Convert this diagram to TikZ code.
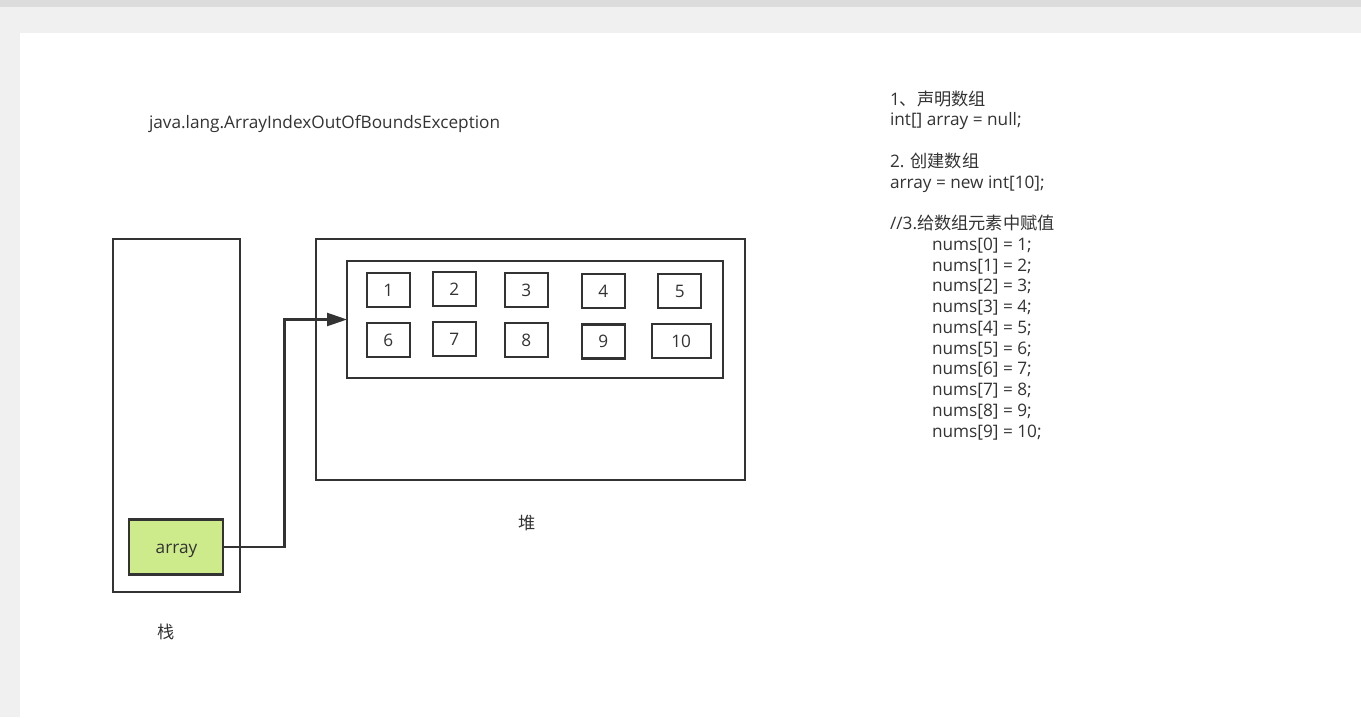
\documentclass[tikz,border=0pt]{standalone}
\usepackage{fontspec}
\setmainfont{Open Sans}
\newfontfamily\cjk{Noto Sans CJK SC}
\usetikzlibrary{arrows.meta}
\definecolor{ink}{HTML}{333333}
\definecolor{txt}{HTML}{333333}
\definecolor{grn}{HTML}{CDEB8B}
\definecolor{bgA}{HTML}{F0F0F0}
\definecolor{bgB}{HTML}{DCDCDC}
\begin{document}
\begin{tikzpicture}[x=0.02cm,y=-0.02cm,
  every node/.style={font=\fontsize{9.8pt}{11pt}\selectfont, text=txt, inner sep=0pt, outer sep=0pt},
  box/.style={draw=ink, line width=1.3pt, rectangle},
  cell/.style={box, minimum width=0.86cm, minimum height=0.68cm},
  codeline/.style={anchor=base west},
  conn/.style={draw=ink, line width=1.3pt, -{Triangle[length=0.4cm,width=0.26cm]}}]
\useasboundingbox (0,0) rectangle (1361,717);
\fill[bgA] (0,0) rectangle (1361,717);
\fill[bgB] (0,0) rectangle (1361,7);
\fill[white] (20,33) rectangle (1361,717);

% title
\node[anchor=base west] (title) at (149,128) {java.lang.ArrayIndexOutOfBoundsException};

% stack
\node[box, minimum width=2.54cm, minimum height=7.06cm] (stack) at (176.5,415.5) {};
\node[box, fill=grn, minimum width=1.88cm, minimum height=1.1cm] (arr) at (176.3,547) {};
\node[anchor=base] (arrlbl) at (176.5,553) {array};
\node (stacklbl) at (166,632) {\cjk 栈};

% heap
\node[box, minimum width=8.58cm, minimum height=4.82cm] (heap) at (530.5,359.5) {};
\node[box, minimum width=7.52cm, minimum height=2.34cm] (inner) at (535,319.5) {};
\node (heaplbl) at (527,523) {\cjk 堆};

% cells
\node[cell] (c1) at (388.3,290.3) {1};
\node[cell] (c2) at (454.3,289.3) {2};
\node[cell] (c3) at (526.3,290.3) {3};
\node[cell] (c4) at (603.3,291.3) {4};
\node[cell] (c5) at (679.7,291.3) {5};
\node[cell] (c6) at (388.3,340.3) {6};
\node[cell] (c7) at (454.3,339.3) {7};
\node[cell] (c8) at (526.3,340.3) {8};
\node[cell] (c9) at (603.3,341.5) {9};
\node[cell, minimum width=1.18cm] (c10) at (681.2,341.3) {10};

% connector
\coordinate (bend) at (284.5,547);
\draw[conn] (arr.east) -- (bend) |- (inner.west);

% code text
\node[codeline] (t0) at (890,105) {1{\cjk 、声明数组}};
\node[codeline] (t1) at (890,125.75) {int[] array = null;};
\node[codeline] (t3) at (890,167.25) {2. {\cjk 创建数组}};
\node[codeline] (t4) at (890,188) {array = new int[10];};
\node[codeline] (t6) at (890,229.5) {//3.{\cjk 给数组元素中赋值}};
\foreach \i/\v in {0/1,1/2,2/3,3/4,4/5,5/6,6/7,7/8,8/9,9/10}{
  \node[codeline] (n\i) at (932,{250.25+20.75*\i}) {nums[\i] = \v;};
}
\end{tikzpicture}
\end{document}
